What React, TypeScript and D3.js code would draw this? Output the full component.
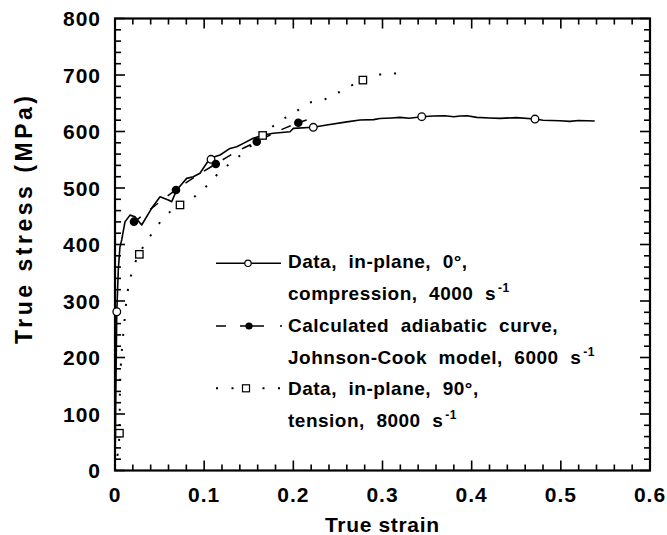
import React from "react";
import * as d3 from "d3";

// ---------- data ----------
const compStrain = [0, 0.001, 0.002, 0.0037, 0.0055, 0.0075, 0.0112, 0.0168, 0.0224, 0.0299, 0.0411, 0.0505, 0.0598, 0.0636, 0.0692, 0.0804, 0.0878, 0.0953, 0.1065, 0.1178, 0.129, 0.1365, 0.144, 0.155, 0.1663, 0.1775, 0.1963, 0.2, 0.2224, 0.2374, 0.26, 0.2748, 0.29, 0.297, 0.31, 0.3196, 0.33, 0.344, 0.357, 0.37, 0.38, 0.387, 0.395, 0.4056, 0.42, 0.4318, 0.45, 0.471, 0.48, 0.499, 0.51, 0.52, 0.538];
const compStress = [0, 150, 281, 355, 395, 408, 440, 452, 449, 434.5, 464, 484.6, 478.8, 475.8, 496.5, 517, 520, 526, 552.6, 558.4, 570, 573, 579, 588, 593.8, 596.8, 599.6, 605.6, 607.4, 611.5, 617, 620.4, 621, 623, 624, 625, 623.5, 626.2, 627.4, 628, 626, 627.4, 628, 625, 624, 623.3, 624.5, 622, 620, 619, 618, 619.5, 618.6];
const compMarkStrain = [0.002, 0.1077, 0.2224, 0.344, 0.471];
const compMarkStress = [281, 550.8, 607.4, 626.2, 622];

const jcStrain = [0.02, 0.041, 0.068, 0.09, 0.113, 0.136, 0.159, 0.182, 0.206, 0.215];
const jcStress = [438, 464, 496.5, 520, 542.5, 564, 582, 600, 615.6, 620.5];
const jcMarkStrain = [0.0213, 0.0684, 0.113, 0.159, 0.2056];
const jcMarkStress = [440.4, 496.5, 542.5, 582, 615.6];

const tenStrain = [0, 0.003, 0.005, 0.0055, 0.0065, 0.008, 0.0101, 0.0125, 0.0155, 0.019, 0.0224, 0.0273, 0.035, 0.0418, 0.054, 0.0729, 0.087, 0.1028, 0.1178, 0.1346, 0.1656, 0.1832, 0.2, 0.2168, 0.2355, 0.2505, 0.278, 0.3028, 0.3196];
const tenStress = [0, 30, 66, 137, 184, 219, 255, 296, 330, 350, 367, 383, 405, 420, 446, 470, 482, 503.5, 529, 550, 593, 617, 632, 650, 657, 669, 691, 702, 703];
const tenMarkStrain = [0.005, 0.0273, 0.0729, 0.1656, 0.278];
const tenMarkStress = [66, 382.6, 470, 593, 691];

const xTickValues = [0, 0.1, 0.2, 0.3, 0.4, 0.5, 0.6];
const xTickLabels = ["0", "0.1", "0.2", "0.3", "0.4", "0.5", "0.6"];
const yTickValues = [0, 100, 200, 300, 400, 500, 600, 700, 800];
const yTickLabels = ["0", "100", "200", "300", "400", "500", "600", "700", "800"];

const legendLabels = [
  ["Data,  in-plane,  0°,", ""],
  ["compression,  4000  s", "-1"],
  ["Calculated  adiabatic  curve,", ""],
  ["Johnson-Cook  model,  6000  s", "-1"],
  ["Data,  in-plane,  90°,", ""],
  ["tension,  8000  s", "-1"],
];

const xTitle = "True strain";
const yTitle = "True stress (MPa)";

// ---------- layout ----------
const W = 667;
const H = 535;
const L = 115, R = 650, T = 18.5, B = 470.5;
const FONT = "'Liberation Sans', Arial, Helvetica, sans-serif";

const x = d3.scaleLinear().domain([0, 0.6]).range([L, R]);
const y = d3.scaleLinear().domain([0, 800]).range([B, T]);

const zip = (a: number[], b: number[]) => a.map((v, i) => [v, b[i]] as [number, number]);

const line = d3
  .line<[number, number]>()
  .x((d) => x(d[0]))
  .y((d) => y(d[1]));
const smooth = d3
  .line<[number, number]>()
  .x((d) => x(d[0]))
  .y((d) => y(d[1]))
  .curve(d3.curveMonotoneX);

const keepSpaces = (s: string) => s.replace(/  /g, " \u00A0");

export default function App() {
  const xMinor = d3.range(0, 0.6001, 0.02);
  const yMinor = d3.range(0, 800.1, 20);
  const isMajX = (v: number) => Math.abs(v * 10 - Math.round(v * 10)) < 1e-6;
  const isMajY = (v: number) => Math.abs(v / 100 - Math.round(v / 100)) < 1e-6;

  const legendBase = [268, 300, 332, 364, 395, 427];
  const textX = 288;

  return (
    <svg
      width={W}
      height={H}
      style={{ position: "absolute", left: 0, top: 0, background: "#fff" }}
      fontFamily={FONT}
    >
      <rect x={0} y={0} width={W} height={H} fill="#fff" />
      {/* ticks */}
      <g stroke="#000" strokeWidth={1.6}>
        {xMinor.map((v, i) => {
          const len = isMajX(v) ? 10 : 6;
          return (
            <g key={"xt" + i}>
              <line x1={x(v)} x2={x(v)} y1={B} y2={B - len} />
              <line x1={x(v)} x2={x(v)} y1={T} y2={T + len} />
            </g>
          );
        })}
        {yMinor.map((v, i) => {
          const len = isMajY(v) ? 10 : 6;
          return (
            <g key={"yt" + i}>
              <line x1={L} x2={L + len} y1={y(v)} y2={y(v)} />
              <line x1={R} x2={R - len} y1={y(v)} y2={y(v)} />
            </g>
          );
        })}
      </g>
      {/* frame */}
      <rect x={L} y={T} width={R - L} height={B - T} fill="none" stroke="#000" strokeWidth={2.2} />

      {/* tick labels */}
      <g fontWeight="bold" fontSize={21} letterSpacing={1} fill="#000">
        {xTickValues.map((v, i) => (
          <text key={"xl" + i} x={x(v)} y={501.5} textAnchor="middle">
            {xTickLabels[i]}
          </text>
        ))}
        {yTickValues.map((v, i) => (
          <text key={"yl" + i} x={101} y={y(v) + 7.5} textAnchor="end">
            {yTickLabels[i]}
          </text>
        ))}
      </g>

      {/* axis titles */}
      <text x={382} y={531.5} textAnchor="middle" fontWeight="bold" fontSize={21} textLength={114} lengthAdjust="spacing">
        {xTitle}
      </text>
      <text
        transform={`translate(32,220) rotate(-90)`}
        textAnchor="middle"
        fontWeight="bold"
        fontSize={23}
        textLength={248}
        lengthAdjust="spacing"
      >
        {yTitle}
      </text>

      {/* series: tension dotted */}
      <path
        d={smooth(zip(tenStrain, tenStress)) || ""}
        fill="none"
        stroke="#000"
        strokeWidth={2}
        strokeDasharray="2,13"
      />
      {/* series: JC dashed */}
      <path
        d={smooth(zip(jcStrain, jcStress)) || ""}
        fill="none"
        stroke="#000"
        strokeWidth={1.5}
        strokeDasharray="10,12"
      />
      {/* series: compression solid */}
      <path d={line(zip(compStrain, compStress)) || ""} fill="none" stroke="#000" strokeWidth={1.6} strokeLinejoin="round" />

      {/* markers */}
      {zip(compMarkStrain, compMarkStress).map((d, i) => (
        <circle key={"cm" + i} cx={x(d[0])} cy={y(d[1])} r={3.8} fill="#fff" stroke="#000" strokeWidth={1.3} />
      ))}
      {zip(jcMarkStrain, jcMarkStress).map((d, i) => (
        <circle key={"jm" + i} cx={x(d[0])} cy={y(d[1])} r={4.3} fill="#000" />
      ))}
      {zip(tenMarkStrain, tenMarkStress).map((d, i) => (
        <rect key={"tm" + i} x={x(d[0]) - 3.7} y={y(d[1]) - 3.7} width={7.4} height={7.4} fill="#fff" stroke="#000" strokeWidth={1.3} />
      ))}

      {/* legend symbols */}
      <line x1={216} x2={281} y1={263.3} y2={263.3} stroke="#000" strokeWidth={1.5} />
      <circle cx={248} cy={263.3} r={3.2} fill="#fff" stroke="#000" strokeWidth={1.2} />
      <line x1={216} x2={282} y1={326} y2={326} stroke="#000" strokeWidth={1.5} strokeDasharray="10,14,24,16,2,10" />
      <circle cx={249} cy={326} r={3.6} fill="#000" />
      <line x1={216} x2={281} y1={388.3} y2={388.3} stroke="#000" strokeWidth={2} strokeDasharray="2,13.5" />
      <rect x={242.5} y={384.8} width={7} height={7} fill="#fff" stroke="#000" strokeWidth={1.2} />

      {/* legend text */}
      <g fontWeight="bold" fontSize={19} letterSpacing={0.5} fill="#000">
        {legendLabels.map((l, i) => (
          <text key={"lg" + i} x={textX} y={legendBase[i]}>
            {keepSpaces(l[0])}
            {l[1] ? (
              <tspan dy={-8} dx={2} fontSize={12}>
                {l[1]}
              </tspan>
            ) : null}
          </text>
        ))}
      </g>
    </svg>
  );
}
